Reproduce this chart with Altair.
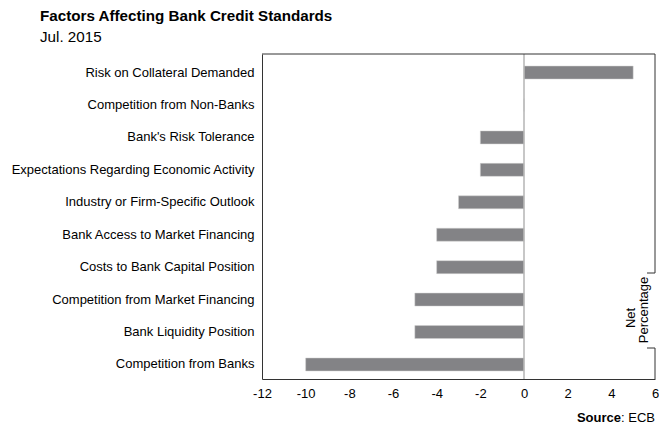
import altair as alt
import pandas as pd

categories = [
    "Risk on Collateral Demanded",
    "Competition from Non-Banks",
    "Bank's Risk Tolerance",
    "Expectations Regarding Economic Activity",
    "Industry or Firm-Specific Outlook",
    "Bank Access to Market Financing",
    "Costs to Bank Capital Position",
    "Competition from Market Financing",
    "Bank Liquidity Position",
    "Competition from Banks",
]
values = [5, 0, -2, -2, -3, -4, -4, -5, -5, -10]
x_ticks = [-12, -10, -8, -6, -4, -2, 0, 2, 4, 6]

title_text = "Factors Affecting Bank Credit Standards"
subtitle_text = "Jul. 2015"
axis_title_lines = ["Net", "Percentage"]
source_bold = "Source"
source_rest = ": ECB"

FONT = "Liberation Sans"
W, H = 393, 325
FS = 13

df = pd.DataFrame({"factor": categories, "value": values})
one = alt.Data(values=[{}])

xscale = alt.Scale(domain=[-12, 6], nice=False, zero=False)

bars = alt.Chart(df).mark_bar(color="#838386", stroke="#d0d0d0", strokeWidth=0.5).encode(
    y=alt.Y(
        "factor:N",
        sort=categories,
        scale=alt.Scale(paddingInner=0.6, paddingOuter=0.31, align=0.6),
        axis=alt.Axis(
            title=None, ticks=False, domain=True, domainColor="#333333",
            labelPadding=8, labelFontSize=FS, labelColor="#000000",
            labelFont=FONT, labelLimit=400,
        ),
    ),
    x=alt.X(
        "value:Q",
        scale=xscale,
        axis=alt.Axis(
            title=None, ticks=False, grid=False, domain=True, domainColor="#333333",
            values=x_ticks, labelExpr="datum.value", labelPadding=8, labelFlush=False,
            labelFontSize=FS, labelColor="#000000", labelFont=FONT,
        ),
    ),
)

zero = alt.Chart(one).mark_rule(color="#b4b4b4", strokeWidth=1.5).encode(
    x=alt.X(datum=0, scale=xscale)
)

frame_color = "#333333"
top_line = alt.Chart(one).mark_rule(color=frame_color, strokeWidth=1).encode(
    x=alt.value(0), x2=alt.value(W), y=alt.value(0)
)
right_upper = alt.Chart(one).mark_rule(color=frame_color, strokeWidth=1).encode(
    x=alt.value(W), y=alt.value(0), y2=alt.value(219)
)
right_upper_tick = alt.Chart(one).mark_rule(color=frame_color, strokeWidth=1).encode(
    x=alt.value(W - 8), x2=alt.value(W), y=alt.value(219)
)
right_lower = alt.Chart(one).mark_rule(color=frame_color, strokeWidth=1).encode(
    x=alt.value(W), y=alt.value(294), y2=alt.value(H)
)
right_lower_tick = alt.Chart(one).mark_rule(color=frame_color, strokeWidth=1).encode(
    x=alt.value(W - 8), x2=alt.value(W), y=alt.value(294)
)

net_txt = alt.Chart(one).mark_text(
    angle=270, align="center", baseline="middle", fontSize=FS, font=FONT, color="#000000"
).encode(x=alt.value(369), y=alt.value(264), text=alt.value(axis_title_lines[0]))
pct_txt = alt.Chart(one).mark_text(
    angle=270, align="center", baseline="middle", fontSize=FS, font=FONT, color="#000000"
).encode(x=alt.value(382), y=alt.value(256), text=alt.value(axis_title_lines[1]))

title = alt.Chart(one).mark_text(
    align="left", baseline="alphabetic", fontSize=15.2, fontWeight="bold", font=FONT, color="#000000"
).encode(x=alt.value(-222), y=alt.value(-33), text=alt.value(title_text))
subtitle = alt.Chart(one).mark_text(
    align="left", baseline="alphabetic", fontSize=15.2, font=FONT, color="#000000"
).encode(x=alt.value(-222), y=alt.value(-12), text=alt.value(subtitle_text))

src_b = alt.Chart(one).mark_text(
    align="right", baseline="alphabetic", fontSize=FS, fontWeight="bold", font=FONT, color="#000000"
).encode(x=alt.value(359), y=alt.value(368), text=alt.value(source_bold))
src_r = alt.Chart(one).mark_text(
    align="left", baseline="alphabetic", fontSize=FS, font=FONT, color="#000000"
).encode(x=alt.value(359), y=alt.value(368), text=alt.value(source_rest))

chart = alt.layer(
    bars, zero, top_line, right_upper, right_upper_tick, right_lower, right_lower_tick,
    net_txt, pct_txt, title, subtitle, src_b, src_r,
).properties(
    width=W, height=H,
    autosize=alt.AutoSizeParams(type="none"),
    padding={"left": 262, "top": 54, "right": 4, "bottom": 48},
    background="#ffffff",
).configure_view(stroke=None)

chart.save("out.html", embed_options={"renderer": "svg", "actions": False})
